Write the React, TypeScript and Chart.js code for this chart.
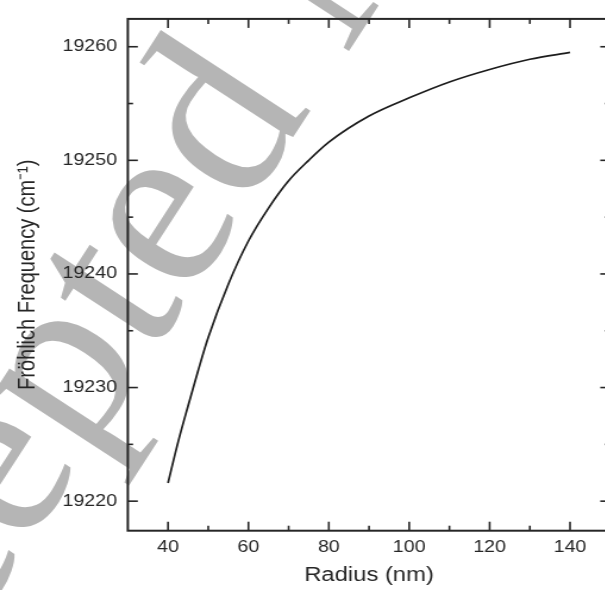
import React, { useEffect, useRef } from 'react';
import { Chart, registerables } from 'chart.js';

Chart.register(...registerables);

// ---- data ----
const radius = [40, 42.5, 45, 47.5, 50, 55, 60, 65, 70, 75, 80, 90, 100, 110, 120, 130, 140];
const frequency = [
  19221.6, 19225.2, 19228.4, 19231.5, 19234.4, 19239.1, 19242.9, 19245.8, 19248.2,
  19250.0, 19251.6, 19253.9, 19255.5, 19256.9, 19258.0, 19258.9, 19259.5,
];
const xTicks = [40, 60, 80, 100, 120, 140];
const xMinorTicks = [50, 70, 90, 110, 130];
const yTicks = [19220, 19230, 19240, 19250, 19260];
const yMinorTicks = [19225, 19235, 19245, 19255];
const xTitle = 'Radius (nm)';
const yTitle = 'Fröhlich Frequency (cm⁻¹)';
const watermark = 'Accepted Manuscript';

// ---- layout / style ----
const SX = 1.19; // horizontal stretch of the whole picture
const W = 530;
const H = 590;
const AREA_LEFT = 107.4;
const AREA_RIGHT = 512.8;
const AREA_TOP = 10;
const AREA_BOTTOM = 530.7;
const FONT = '"Liberation Sans", Arial, sans-serif';
const INK = '#262626';

const WM_X = 170;
const WM_Y = 226;
const WM_ANGLE = 57;
const WM_SIZE = 244;

const framePlugin = {
  id: 'frame',
  beforeDraw(chart: any) {
    const ctx = chart.ctx;
    ctx.save();
    ctx.scale(1 / SX, 1);
    ctx.translate(WM_X, WM_Y);
    ctx.rotate((-WM_ANGLE * Math.PI) / 180);
    ctx.font = `${WM_SIZE}px "Liberation Serif", "Times New Roman", serif`;
    ctx.fillStyle = '#b5b5b5';
    const pre = ctx.measureText(watermark.slice(0, 6)).width + ctx.measureText('e').width / 2;
    ctx.fillText(watermark, -pre, WM_SIZE * 0.225);
    ctx.restore();
  },
  afterDraw(chart: any) {
    const ctx = chart.ctx;
    const { left, right, top, bottom } = chart.chartArea;
    const x = chart.scales.x;
    const y = chart.scales.y;
    ctx.save();
    ctx.strokeStyle = INK;
    ctx.lineWidth = 2;
    ctx.strokeRect(left, top, right - left, bottom - top);
    ctx.lineWidth = 1.6;
    const vline = (px: number, y0: number, y1: number) => {
      ctx.beginPath();
      ctx.moveTo(px, y0);
      ctx.lineTo(px, y1);
      ctx.stroke();
    };
    const hline = (py: number, x0: number, x1: number) => {
      ctx.beginPath();
      ctx.moveTo(x0, py);
      ctx.lineTo(x1, py);
      ctx.stroke();
    };
    xTicks.forEach((v) => {
      const px = x.getPixelForValue(v);
      vline(px, bottom, bottom - 9);
      vline(px, top, top + 9);
    });
    xMinorTicks.forEach((v) => {
      const px = x.getPixelForValue(v);
      vline(px, bottom, bottom - 5);
      vline(px, top, top + 5);
    });
    yTicks.forEach((v) => {
      const py = y.getPixelForValue(v);
      hline(py, left, left + 8.4);
      hline(py, right, right - 8.4);
    });
    yMinorTicks.forEach((v) => {
      const py = y.getPixelForValue(v);
      hline(py, left, left + 4.4);
      hline(py, right, right - 4.4);
    });
    ctx.restore();
  },
};

export default function App() {
  const ref = useRef<HTMLCanvasElement | null>(null);

  useEffect(() => {
    document.body.style.overflow = 'hidden';
    const canvas = ref.current;
    if (!canvas) return;
    const chart = new Chart(canvas, {
      type: 'scatter',
      data: {
        datasets: [
          {
            data: radius.map((r, i) => ({ x: r, y: frequency[i] })),
            showLine: true,
            borderColor: '#1c1c1c',
            borderWidth: 1.7,
            pointRadius: 0,
            cubicInterpolationMode: 'monotone',
            fill: false,
          } as any,
        ],
      },
      options: {
        responsive: false,
        animation: false,
        layout: { padding: { left: 0, right: W - AREA_RIGHT, top: AREA_TOP, bottom: 0 } },
        plugins: { legend: { display: false }, tooltip: { enabled: false } },
        scales: {
          x: {
            type: 'linear',
            min: 30,
            max: 150,
            afterBuildTicks: (s: any) => {
              s.ticks = xTicks.map((v) => ({ value: v }));
            },
            afterFit: (s: any) => {
              s.height = H - AREA_BOTTOM;
            },
            grid: { display: false, drawTicks: false },
            border: { display: false },
            ticks: {
              font: { family: FONT, size: 16.5 },
              color: INK,
              padding: 7,
              maxRotation: 0,
              callback: (v: any) => String(v),
            },
            title: {
              display: true,
              text: xTitle,
              font: { family: FONT, size: 20 },
              color: INK,
              padding: { top: 0, bottom: 3 },
            },
          },
          y: {
            type: 'linear',
            min: 19217.4,
            max: 19262.45,
            afterBuildTicks: (s: any) => {
              s.ticks = yTicks.map((v) => ({ value: v }));
            },
            afterFit: (s: any) => {
              s.width = AREA_LEFT;
            },
            grid: { display: false, drawTicks: false },
            border: { display: false },
            ticks: {
              font: { family: FONT, size: 16.5 },
              color: INK,
              padding: 9,
              callback: (v: any) => String(v),
            },
            title: {
              display: true,
              text: yTitle,
              font: { family: FONT, size: 20 },
              color: INK,
              padding: { top: 11, bottom: 0 },
            },
          },
        },
      },
      plugins: [framePlugin],
    });
    return () => chart.destroy();
  }, []);

  return (
    <div
      style={{
        position: 'fixed',
        left: 0,
        top: 0,
        width: W,
        height: H,
        transform: `scaleX(${SX})`,
        transformOrigin: '0 0',
      }}
    >
      <canvas ref={ref} width={W} height={H} style={{ display: 'block' }} />
    </div>
  );
}
